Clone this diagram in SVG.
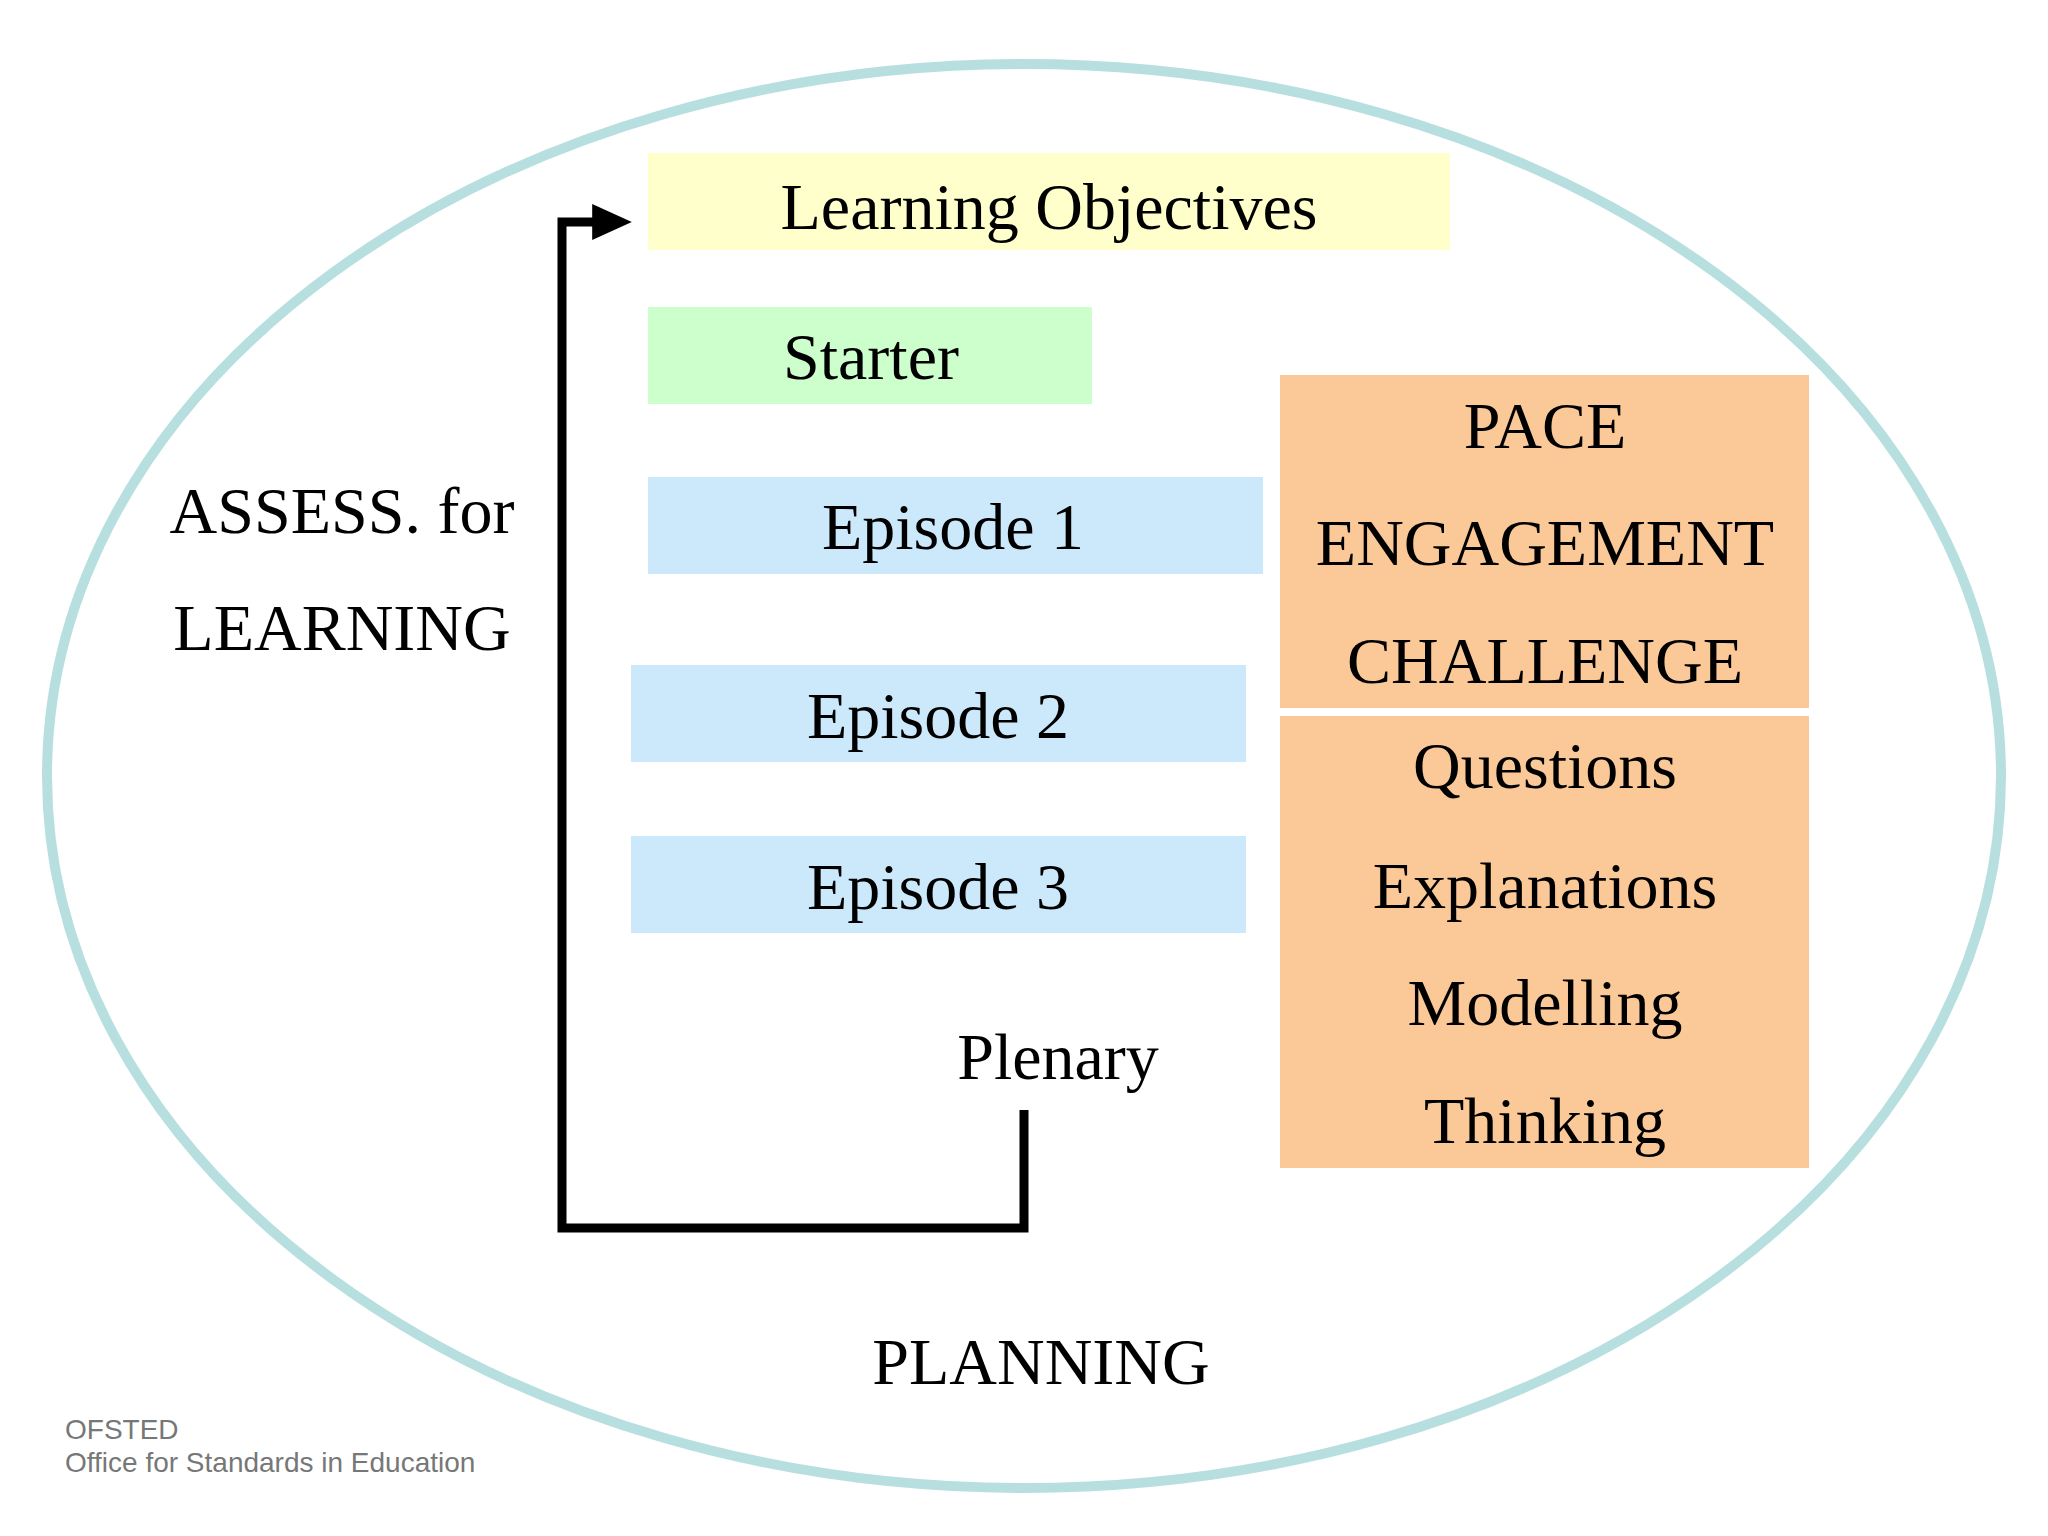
<svg xmlns="http://www.w3.org/2000/svg" width="2048" height="1536" viewBox="0 0 2048 1536">
<style>
.t{font-family:"Liberation Serif",serif;font-size:66px;fill:#000;text-anchor:middle}
.s{font-family:"Liberation Sans",sans-serif;font-size:28px;fill:#777}
</style>
<defs><marker id="ah" markerWidth="4.4" markerHeight="4" refX="0.2" refY="2" orient="auto" markerUnits="strokeWidth"><path d="M0,0 L4.4,2 L0,4 Z" fill="#000"/></marker></defs>
<rect width="2048" height="1536" fill="#fff"/>
<ellipse cx="1024" cy="776" rx="977" ry="712" fill="none" stroke="#b8dfe0" stroke-width="10"/>
<g id="lo"><rect x="648" y="153" width="802" height="97" fill="#ffffcc"/><text class="t" x="1049" y="229">Learning Objectives</text></g>
<g id="starter"><rect x="648" y="307" width="444" height="97" fill="#ccffcc"/><text class="t" x="871" y="379">Starter</text></g>
<g id="ep1"><rect x="648" y="477" width="615" height="97" fill="#cce9fb"/><text class="t" x="953" y="549">Episode 1</text></g>
<g id="ep2"><rect x="631" y="665" width="615" height="97" fill="#cce9fb"/><text class="t" x="938" y="738">Episode 2</text></g>
<g id="ep3"><rect x="631" y="836" width="615" height="97" fill="#cce9fb"/><text class="t" x="938" y="909">Episode 3</text></g>
<g id="pace"><rect x="1280" y="375" width="529" height="333" fill="#fbc998"/>
<text class="t" x="1545" y="448">PACE</text><text class="t" x="1545" y="565">ENGAGEMENT</text><text class="t" x="1545" y="683">CHALLENGE</text></g>
<g id="skills"><rect x="1280" y="716" width="529" height="452" fill="#fbc998"/>
<text class="t" x="1545" y="788">Questions</text><text class="t" x="1545" y="908">Explanations</text><text class="t" x="1545" y="1025">Modelling</text><text class="t" x="1545" y="1143">Thinking</text></g>
<g id="afl"><text class="t" x="342" y="533">ASSESS. for</text><text class="t" x="342" y="650">LEARNING</text></g>
<g id="plenary"><text class="t" x="1058" y="1079">Plenary</text></g>
<g id="planning"><text class="t" x="1041" y="1384">PLANNING</text></g>
<g id="connectors"><path d="M1024,1110 V1228 H562 V222 H594" fill="none" stroke="#000" stroke-width="9" marker-end="url(#ah)"/></g>
<g id="credit"><text class="s" x="65" y="1439">OFSTED</text><text class="s" x="65" y="1472">Office for Standards in Education</text></g>
</svg>
